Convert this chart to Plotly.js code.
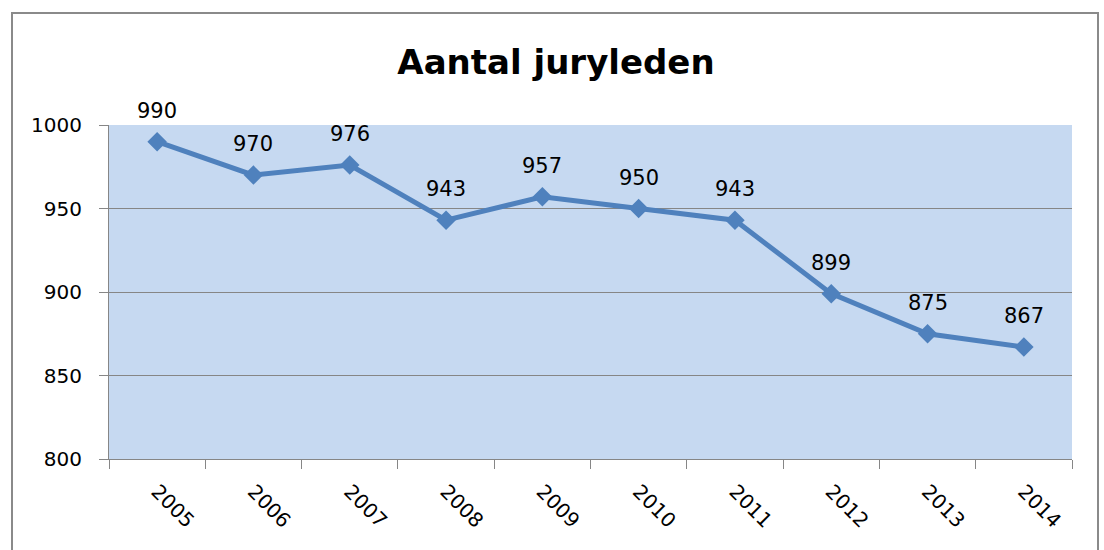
<!DOCTYPE html>
<html>
<head>
<meta charset="utf-8">
<script src="https://cdn.plot.ly/plotly-3.0.1.min.js"></script>
<style>
html,body{margin:0;padding:0;background:#fff;}
#wrap{position:relative;width:1104px;height:550px;overflow:hidden;}
#chart{width:1104px;height:550px;}
#frame{position:absolute;left:11px;top:12px;width:1084px;height:600px;border:2px solid #8a8a8a;pointer-events:none;}
</style>
</head>
<body>
<div id="wrap"><div id="chart"></div><div id="frame"></div></div>
<script>
const years = ['2005','2006','2007','2008','2009','2010','2011','2012','2013','2014'];
const jurors = [990, 970, 976, 943, 957, 950, 943, 899, 875, 867];
const yTicks = [800, 850, 900, 950, 1000];
const chartTitle = 'Aantal juryleden';

const FONT = '"DejaVu Sans", sans-serif';
const BLUE = '#4F81BD';

const trace = {
  x: years,
  y: jurors,
  type: 'scatter',
  mode: 'lines+markers',
  line: {color: BLUE, width: 5},
  marker: {symbol: 'diamond', size: 15, color: BLUE},
  hoverinfo: 'none',
  cliponaxis: false
};

const annotations = years.map((yr, i) => ({
  x: i, y: jurors[i], xref: 'x', yref: 'y',
  text: String(jurors[i]), showarrow: false,
  yshift: 31, font: {family: FONT, size: 21, color: '#000'}
}));

const layout = {
  width: 1104, height: 550,
  margin: {l: 109, r: 32, t: 125, b: 91},
  paper_bgcolor: '#ffffff',
  plot_bgcolor: '#C6D9F1',
  showlegend: false,
  title: {
    text: '<b>' + chartTitle + '</b>',
    font: {family: FONT, size: 34, color: '#000'},
    x: 556 / 1104, xanchor: 'center', xref: 'container',
    y: 1 - 62 / 550, yanchor: 'middle', yref: 'container'
  },
  xaxis: {
    type: 'category',
    categoryarray: years,
    range: [-0.5, years.length - 0.5],
    autorange: false,
    tickson: 'boundaries',
    ticks: 'outside', ticklen: 9, tickcolor: '#868686', tickwidth: 1,
    showline: true, linecolor: '#868686', linewidth: 1,
    showgrid: false, zeroline: false,
    tickangle: 45,
    tickfont: {family: FONT, size: 20, color: '#000'},
    ticklabelstandoff: 12,
    fixedrange: true
  },
  yaxis: {
    range: [800, 1000],
    autorange: false,
    tickvals: yTicks,
    ticktext: yTicks.map(String),
    ticks: 'outside', ticklen: 9, tickcolor: '#868686', tickwidth: 1,
    showline: true, linecolor: '#868686', linewidth: 1,
    showgrid: true, gridcolor: '#868686', gridwidth: 1,
    zeroline: false,
    tickfont: {family: FONT, size: 20, color: '#000'},
    ticklabelstandoff: 13,
    fixedrange: true
  },
  annotations: annotations
};

Plotly.newPlot('chart', [trace], layout, {displayModeBar: false, staticPlot: true});
</script>
</body>
</html>
